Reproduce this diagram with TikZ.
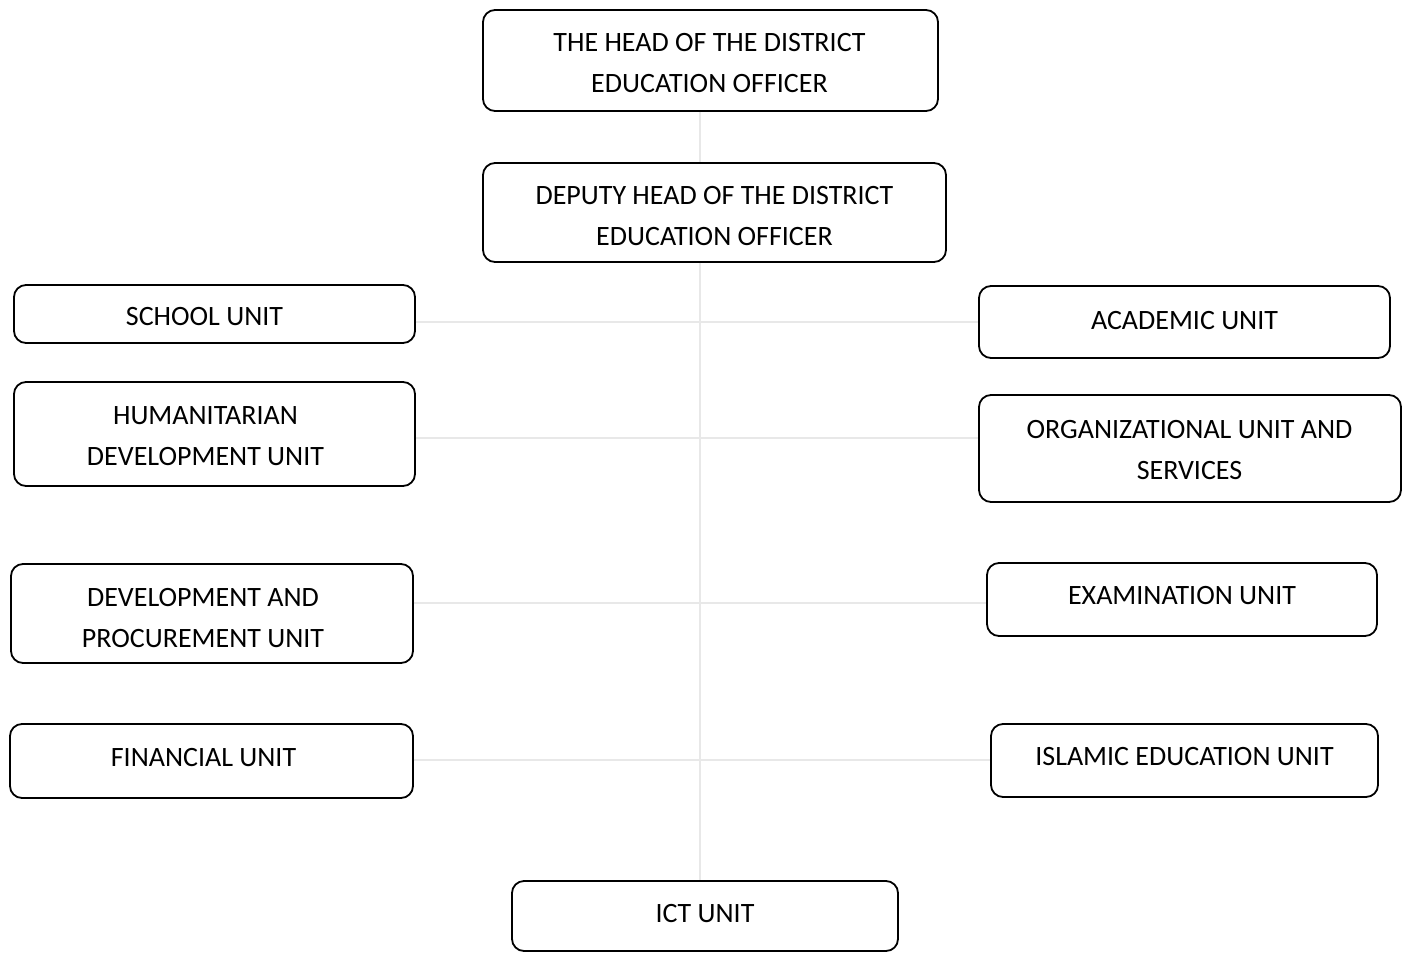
\documentclass[tikz,border=0pt]{standalone}
\usepackage{fontspec}
\setmainfont{Carlito}
\usetikzlibrary{calc}
\begin{document}
\begin{tikzpicture}[x=1pt,y=1pt,
  unitbox/.style={draw=black, line width=1.8pt, rounded corners=12pt, inner sep=0pt},
  unittext/.style={inner sep=0pt, align=center, font=\fontsize{28}{41}\selectfont},
  link/.style={draw=black!9, line width=1.4pt}]
\useasboundingbox (0,0) rectangle (1408,-953);
% boxes (centre x, centre y) from pixel measurements
\node[unitbox, minimum width=455pt, minimum height=101pt] (head) at (710.5,-60.5) {};
\node[unitbox, minimum width=463pt, minimum height=99pt] (deputy) at (714.5,-212.5) {};
\node[unitbox, minimum width=401pt, minimum height=58pt] (school) at (214.5,-314) {};
\node[unitbox, minimum width=411pt, minimum height=72pt] (academic) at (1184.5,-322) {};
\node[unitbox, minimum width=401pt, minimum height=104pt] (human) at (214.5,-434) {};
\node[unitbox, minimum width=422pt, minimum height=107pt] (organ) at (1190,-448.5) {};
\node[unitbox, minimum width=402pt, minimum height=99pt] (devproc) at (212,-613.5) {};
\node[unitbox, minimum width=390pt, minimum height=73pt] (exam) at (1182,-599.5) {};
\node[unitbox, minimum width=403pt, minimum height=74pt] (fin) at (211.5,-761) {};
\node[unitbox, minimum width=387pt, minimum height=73pt] (islam) at (1184.5,-760.5) {};
\node[unitbox, minimum width=386pt, minimum height=70pt] (ict) at (705,-916) {};
% texts
\node[unittext] (head-t) at ($(head.center)+(-1,-3)$) {THE HEAD OF THE DISTRICT\\EDUCATION OFFICER};
\node[unittext] (deputy-t) at ($(deputy.center)+(0,-4)$) {DEPUTY HEAD OF THE DISTRICT\\EDUCATION OFFICER};
\node[unittext] (school-t) at ($(school.center)+(-10,-2.5)$) {SCHOOL UNIT};
\node[unittext] (academic-t) at ($(academic.center)+(0,1.5)$) {ACADEMIC UNIT};
\node[unittext] (human-t) at ($(human.center)+(-9,-2)$) {HUMANITARIAN\\DEVELOPMENT UNIT};
\node[unittext] (organ-t) at ($(organ.center)+(-0.5,-1.5)$) {ORGANIZATIONAL UNIT AND\\SERVICES};
\node[unittext] (devproc-t) at ($(devproc.center)+(-9,-4.5)$) {DEVELOPMENT AND\\PROCUREMENT UNIT};
\node[unittext] (exam-t) at ($(exam.center)+(0,4)$) {EXAMINATION UNIT};
\node[unittext] (fin-t) at ($(fin.center)+(-8,3)$) {FINANCIAL UNIT};
\node[unittext] (islam-t) at ($(islam.center)+(0,4)$) {ISLAMIC EDUCATION UNIT};
\node[unittext] (ict-t) at ($(ict.center)+(0,2)$) {ICT UNIT};
% connectors
\coordinate (spine) at (700,0);
\draw[link] (spine |- head.south) -- (spine |- deputy.north);
\draw[link] (spine |- deputy.south) -- (spine |- ict.north);
\draw[link] (school.east |- 0,-322) -- (academic.west |- 0,-322);
\draw[link] (human.east |- 0,-438) -- (organ.west |- 0,-438);
\draw[link] (devproc.east |- 0,-603) -- (exam.west |- 0,-603);
\draw[link] (fin.east |- 0,-760) -- (islam.west |- 0,-760);
\end{tikzpicture}
\end{document}
